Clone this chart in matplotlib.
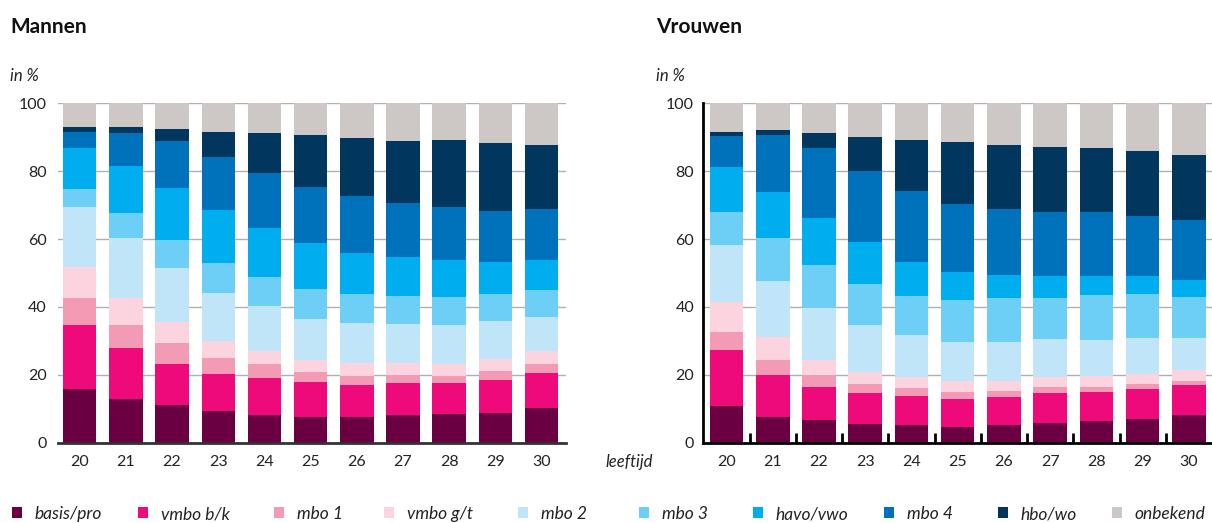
import numpy as np
import matplotlib
matplotlib.use("Agg")
import matplotlib.pyplot as plt
from matplotlib.patches import Patch
from matplotlib.transforms import ScaledTranslation

plt.rcParams['font.family'] = ['Lato', 'DejaVu Sans']

# leeftijden op de x-as
leeftijd = ['20', '21', '22', '23', '24', '25', '26', '27', '28', '29', '30']

categorieen = ['basis/pro', 'vmbo b/k', 'mbo 1', 'vmbo g/t', 'mbo 2',
               'mbo 3', 'havo/vwo', 'mbo 4', 'hbo/wo', 'onbekend']
kleuren = ['#6a0042', '#ee0a7b', '#f39ab5', '#fcd4df', '#c1e5f8',
           '#6ecff6', '#00aeef', '#0071bb', '#01365f', '#cdc7c6']

# Mannen, aandeel per opleidingsniveau (in %)
m_basis = [15.7, 12.8, 11.0, 9.4, 8.2, 7.6, 7.6, 8.3, 8.4, 8.7, 10.3]
m_vmbo_bk = [19.0, 15.2, 12.2, 10.9, 10.8, 10.2, 9.5, 9.2, 9.1, 9.9, 10.3]
m_mbo1 = [7.8, 6.7, 6.1, 4.7, 4.1, 2.9, 2.6, 2.4, 2.2, 2.5, 2.5]
m_vmbo_gt = [9.3, 7.8, 6.2, 5.0, 3.9, 3.8, 3.7, 3.5, 3.6, 3.6, 3.8]
m_mbo2 = [17.6, 17.8, 15.9, 14.2, 13.2, 11.9, 11.9, 11.7, 11.3, 11.2, 10.1]
m_mbo3 = [5.4, 7.3, 8.4, 8.6, 8.5, 8.8, 8.5, 8.2, 8.3, 8.0, 8.1]
m_havo = [11.9, 13.9, 15.2, 15.7, 14.5, 13.6, 12.2, 11.5, 11.0, 9.2, 8.6]
m_mbo4 = [4.7, 9.7, 13.9, 15.7, 16.4, 16.6, 16.6, 15.8, 15.5, 15.2, 15.1]
m_hbo = [1.6, 1.7, 3.4, 7.3, 11.6, 15.4, 17.3, 18.4, 19.7, 19.9, 18.9]
m_onbekend = [7.0, 7.1, 7.7, 8.5, 8.8, 9.2, 10.1, 11.0, 10.9, 11.8, 12.3]

# Vrouwen
v_basis = [10.8, 7.5, 6.7, 5.5, 5.2, 4.7, 5.1, 5.9, 6.4, 6.9, 8.1]
v_vmbo_bk = [16.6, 12.4, 9.7, 9.1, 8.6, 8.3, 8.3, 8.8, 8.4, 8.8, 8.9]
v_mbo1 = [5.2, 4.4, 3.5, 2.7, 2.4, 2.0, 1.8, 1.7, 1.7, 1.5, 1.1]
v_vmbo_gt = [9.0, 6.7, 4.6, 3.6, 3.1, 3.1, 3.1, 3.1, 3.1, 2.9, 3.2]
v_mbo2 = [16.6, 16.5, 15.3, 13.8, 12.3, 11.5, 11.3, 11.1, 10.8, 10.7, 9.5]
v_mbo3 = [9.8, 12.9, 12.7, 12.0, 11.6, 12.3, 12.9, 12.0, 13.0, 13.0, 12.0]
v_havo = [13.2, 13.4, 13.7, 12.5, 10.1, 8.3, 6.8, 6.6, 5.8, 5.2, 5.1]
v_mbo4 = [9.2, 16.9, 20.6, 20.9, 20.9, 20.2, 19.6, 18.7, 18.8, 17.9, 17.6]
v_hbo = [1.2, 1.3, 4.4, 10.0, 15.1, 18.1, 18.7, 19.3, 18.7, 19.0, 19.2]
v_onbekend = [8.4, 8.0, 8.8, 9.9, 10.7, 11.5, 12.4, 12.8, 13.3, 14.1, 15.3]

mannen = [m_basis, m_vmbo_bk, m_mbo1, m_vmbo_gt, m_mbo2,
          m_mbo3, m_havo, m_mbo4, m_hbo, m_onbekend]
vrouwen = [v_basis, v_vmbo_bk, v_mbo1, v_vmbo_gt, v_mbo2,
           v_mbo3, v_havo, v_mbo4, v_hbo, v_onbekend]

W, H = 1212, 523
fig = plt.figure(figsize=(W / 100, H / 100), dpi=100)

ax_m = fig.add_axes([58 / W, 1 - 442.7 / H, 508 / W, 339.4 / H])
ax_v = fig.add_axes([702.5 / W, 1 - 442.7 / H, 509.5 / W, 339.4 / H])

x = np.arange(len(leeftijd))


def stapel(ax, reeksen):
    onder = np.zeros(len(leeftijd))
    for waarden, kleur in zip(reeksen, kleuren):
        ax.bar(x, waarden, bottom=onder, width=0.725, color=kleur, linewidth=0, zorder=2)
        onder += np.array(waarden)
    ax.set_ylim(0, 100)
    ax.set_yticks([0, 20, 40, 60, 80, 100])
    ax.set_xticks(x)
    ax.set_xticklabels(leeftijd)
    ax.yaxis.grid(True, color='#b0b0b0', linewidth=1, zorder=0)
    ax.set_axisbelow(True)
    for s in ['top', 'right']:
        ax.spines[s].set_visible(False)
    ax.tick_params(axis='both', labelsize=11.5, colors='#222222')
    ax.tick_params(axis='x', length=0, pad=9)
    # lage cijfers zoals in het origineel
    for lab in ax.get_yticklabels():
        lab.set_transform(lab.get_transform() + ScaledTranslation(0, -4 / 100, fig.dpi_scale_trans))


stapel(ax_m, mannen)
ax_m.set_xlim(-0.47, 10.53)
ax_m.spines['left'].set_visible(False)
ax_m.spines['bottom'].set_color('#333333')
ax_m.spines['bottom'].set_linewidth(2)
ax_m.tick_params(axis='y', length=0, pad=8)

stapel(ax_v, vrouwen)
ax_v.set_xlim(-0.52, 10.5)
for s in ['left', 'bottom']:
    ax_v.spines[s].set_color('black')
    ax_v.spines[s].set_linewidth(2)
ax_v.tick_params(axis='y', length=0, pad=6)
ax_v.set_xticks(x[:-1] + 0.5, minor=True)
ax_v.set_yticks([100], minor=True)
ax_v.tick_params(which='minor', direction='in', length=7, width=2, color='black')

# titels en labels
fig.text(10 / W, 1 - 27 / H, 'Mannen', fontsize=15, fontweight='bold', va='center', color='#111111')
fig.text(656 / W, 1 - 27 / H, 'Vrouwen', fontsize=15, fontweight='bold', va='center', color='#111111')
fig.text(10 / W, 1 - 76 / H, 'in %', fontsize=12, style='italic', va='center', color='#222222')
fig.text(656 / W, 1 - 76 / H, 'in %', fontsize=12, style='italic', va='center', color='#222222')
fig.text(605 / W, 1 - 462 / H, 'leeftijd', fontsize=12, style='italic', va='center', color='#222222')

# legenda, elk item op zijn eigen plek
legenda_x = [12, 138, 274, 384, 518, 639, 753, 884, 998, 1112]
for cat, kleur, lx in zip(categorieen, kleuren, legenda_x):
    fig.legend(handles=[Patch(facecolor=kleur, edgecolor='none', label=cat)],
               loc='center left', bbox_to_anchor=(lx / W, 1 - 514 / H),
               frameon=False, prop={'style': 'italic', 'size': 12.5},
               handlelength=0.58, handleheight=0.58, handletextpad=0.72,
               borderpad=0, borderaxespad=0, labelcolor='#222222')

fig.savefig('out.png', dpi=100)
